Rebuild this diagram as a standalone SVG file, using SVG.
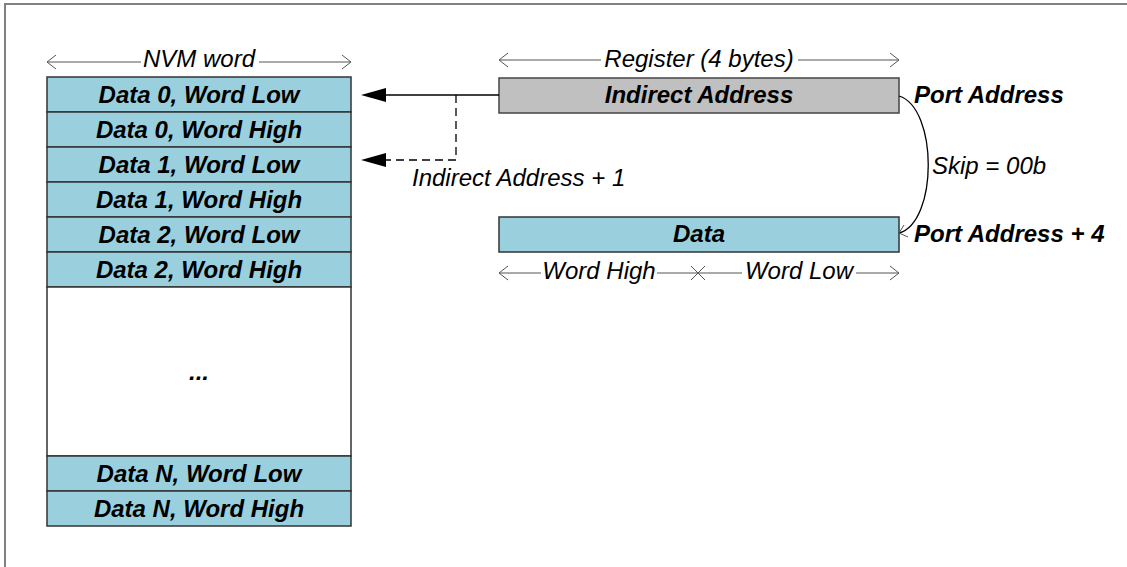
<svg xmlns="http://www.w3.org/2000/svg" width="1127" height="567" viewBox="0 0 1127 567">
<style>
.frame{fill:none;stroke:#808080;stroke-width:2}
.row{fill:#9ad0dd;stroke:#333;stroke-width:1.5}
.gap{fill:#fff;stroke:#333;stroke-width:1.5}
.reg{fill:#c0c0c0;stroke:#444;stroke-width:1.5}
.bt,.btl{font-family:"Liberation Sans",Arial,sans-serif;font-size:24px;font-weight:bold;font-style:italic;fill:#000}
.bt{text-anchor:middle}
.btl{text-anchor:start}
.it{font-family:"Liberation Sans",Arial,sans-serif;font-size:24px;font-style:italic;fill:#000}
.dim{fill:none;stroke:#555;stroke-width:1}
.chev{fill:none;stroke:#555;stroke-width:1}
.conn{fill:none;stroke:#000;stroke-width:1.3}
.dash{stroke-dasharray:8 5}
</style>
<rect width="1127" height="567" fill="#fff"/>
<path class="frame" d="M5,567 V4 H1127"/>
<g id="nvm-label">
<path class="dim" d="M47,62 H141 M259,62 H351"/>
<path class="chev" d="M56,55 L47,62 L56,69 M342,55 L351,62 L342,69"/>
<text class="it" x="199" y="67" text-anchor="middle">NVM word</text>
</g>
<g id="row-d0l"><rect class="row" x="47" y="77" width="304" height="35"/><text class="bt" x="199" y="103">Data 0, Word Low</text></g>
<g id="row-d0h"><rect class="row" x="47" y="112" width="304" height="35"/><text class="bt" x="199" y="138">Data 0, Word High</text></g>
<g id="row-d1l"><rect class="row" x="47" y="147" width="304" height="35"/><text class="bt" x="199" y="173">Data 1, Word Low</text></g>
<g id="row-d1h"><rect class="row" x="47" y="182" width="304" height="35"/><text class="bt" x="199" y="208">Data 1, Word High</text></g>
<g id="row-d2l"><rect class="row" x="47" y="217" width="304" height="35"/><text class="bt" x="199" y="243">Data 2, Word Low</text></g>
<g id="row-d2h"><rect class="row" x="47" y="252" width="304" height="35"/><text class="bt" x="199" y="278">Data 2, Word High</text></g>
<g id="row-gap"><rect class="gap" x="47" y="287" width="304" height="169"/><text class="bt" x="199" y="380">...</text></g>
<g id="row-dnl"><rect class="row" x="47" y="456" width="304" height="35"/><text class="bt" x="199" y="482">Data N, Word Low</text></g>
<g id="row-dnh"><rect class="row" x="47" y="491" width="304" height="35"/><text class="bt" x="199" y="517">Data N, Word High</text></g>
<g id="reg-label">
<path class="dim" d="M499,60 H601 M798,60 H899"/>
<path class="chev" d="M508,53 L499,60 L508,67 M890,53 L899,60 L890,67"/>
<text class="it" x="699" y="67" text-anchor="middle">Register (4 bytes)</text>
</g>
<g id="indirect-address"><rect class="reg" x="499" y="78" width="400" height="35"/><text class="bt" x="699" y="103">Indirect Address</text></g>
<g id="data"><rect class="row" x="499" y="217" width="400" height="35"/><text class="bt" x="699" y="242">Data</text></g>
<g id="word-label">
<path class="dim" d="M499,273 H541 M657,273 H742 M856,273 H899"/>
<path class="chev" d="M508,266 L499,273 L508,280 M890,266 L899,273 L890,280 M691,266 L705,280 M705,266 L691,280"/>
<text class="it" x="599" y="279" text-anchor="middle">Word High</text>
<text class="it" x="799" y="279" text-anchor="middle">Word Low</text>
</g>
<g id="port-labels">
<text class="btl" x="914" y="103">Port Address</text>
<text class="btl" x="914" y="242">Port Address + 4</text>
<text class="it" x="932" y="174">Skip = 00b</text>
<text class="it" x="412" y="186">Indirect Address + 1</text>
</g>
<g id="connectors">
<path class="conn" d="M499,95 H384"/>
<polygon points="361,95 386,88 386,102" fill="#000"/>
<path class="conn dash" d="M456,95 V160 H384"/>
<polygon points="361,160 386,153 386,167" fill="#000"/>
<path class="conn" d="M899,96 C938,108 938,222 899,233" stroke-width="1"/>
<path class="chev" d="M904,225 L899,233 L908,237" stroke="#000"/>
</g>
</svg>
